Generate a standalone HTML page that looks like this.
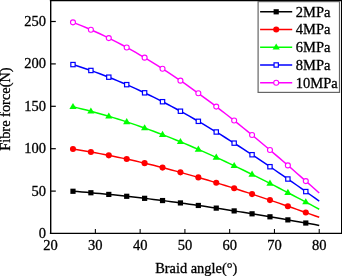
<!DOCTYPE html><html><head><meta charset="utf-8"><style>html,body{margin:0;padding:0;background:#fff;overflow:hidden}svg{display:block;will-change:transform}text{font-family:"Liberation Serif",serif;fill:#000;stroke:#000;stroke-width:0.3px}</style></head><body>
<svg width="342" height="276" viewBox="0 0 342 276">
<polyline points="72.98,191.27 77.46,191.62 81.94,191.98 86.42,192.36 90.89,192.75 95.37,193.15 99.85,193.56 104.32,193.98 108.80,194.42 113.28,194.87 117.75,195.33 122.23,195.80 126.71,196.29 131.19,196.78 135.66,197.29 140.14,197.81 144.62,198.33 149.09,198.87 153.57,199.42 158.05,199.98 162.53,200.55 167.00,201.13 171.48,201.72 175.96,202.32 180.43,202.93 184.91,203.55 189.39,204.18 193.86,204.81 198.34,205.46 202.82,206.11 207.30,206.77 211.77,207.44 216.25,208.12 220.73,208.81 225.20,209.50 229.68,210.20 234.16,210.91 238.63,211.62 243.11,212.35 247.59,213.07 252.06,213.81 256.54,214.55 261.02,215.29 265.50,216.04 269.97,216.80 274.45,217.56 278.93,218.33 283.40,219.10 287.88,219.88 292.36,220.66 296.84,221.44 301.31,222.23 305.79,223.02 310.27,223.81 314.74,224.61 319.22,225.41" fill="none" stroke="#000000" stroke-width="1.5" stroke-linejoin="round"/>
<rect x="70.39" y="188.67" width="5.20" height="5.20" fill="#000000"/>
<rect x="88.29" y="190.15" width="5.20" height="5.20" fill="#000000"/>
<rect x="106.20" y="191.82" width="5.20" height="5.20" fill="#000000"/>
<rect x="124.11" y="193.69" width="5.20" height="5.20" fill="#000000"/>
<rect x="142.02" y="195.73" width="5.20" height="5.20" fill="#000000"/>
<rect x="159.93" y="197.95" width="5.20" height="5.20" fill="#000000"/>
<rect x="177.83" y="200.33" width="5.20" height="5.20" fill="#000000"/>
<rect x="195.74" y="202.86" width="5.20" height="5.20" fill="#000000"/>
<rect x="213.65" y="205.52" width="5.20" height="5.20" fill="#000000"/>
<rect x="231.56" y="208.31" width="5.20" height="5.20" fill="#000000"/>
<rect x="249.47" y="211.21" width="5.20" height="5.20" fill="#000000"/>
<rect x="267.37" y="214.20" width="5.20" height="5.20" fill="#000000"/>
<rect x="285.28" y="217.28" width="5.20" height="5.20" fill="#000000"/>
<rect x="303.19" y="220.42" width="5.20" height="5.20" fill="#000000"/>
<polyline points="72.98,149.04 77.46,149.74 81.94,150.47 86.42,151.22 90.89,151.99 95.37,152.79 99.85,153.62 104.32,154.47 108.80,155.34 113.28,156.24 117.75,157.16 122.23,158.11 126.71,159.07 131.19,160.06 135.66,161.08 140.14,162.11 144.62,163.17 149.09,164.24 153.57,165.34 158.05,166.46 162.53,167.60 167.00,168.76 171.48,169.94 175.96,171.14 180.43,172.36 184.91,173.60 189.39,174.85 193.86,176.13 198.34,177.42 202.82,178.72 207.30,180.05 211.77,181.39 216.25,182.74 220.73,184.12 225.20,185.50 229.68,186.90 234.16,188.32 238.63,189.75 243.11,191.19 247.59,192.65 252.06,194.12 256.54,195.60 261.02,197.09 265.50,198.59 269.97,200.10 274.45,201.63 278.93,203.16 283.40,204.70 287.88,206.25 292.36,207.81 296.84,209.38 301.31,210.95 305.79,212.54 310.27,214.12 314.74,215.72 319.22,217.32" fill="none" stroke="#ff0000" stroke-width="1.5" stroke-linejoin="round"/>
<circle cx="72.98" cy="149.04" r="3.05" fill="#ff0000"/>
<circle cx="90.89" cy="151.99" r="3.05" fill="#ff0000"/>
<circle cx="108.80" cy="155.34" r="3.05" fill="#ff0000"/>
<circle cx="126.71" cy="159.07" r="3.05" fill="#ff0000"/>
<circle cx="144.62" cy="163.17" r="3.05" fill="#ff0000"/>
<circle cx="162.53" cy="167.60" r="3.05" fill="#ff0000"/>
<circle cx="180.43" cy="172.36" r="3.05" fill="#ff0000"/>
<circle cx="198.34" cy="177.42" r="3.05" fill="#ff0000"/>
<circle cx="216.25" cy="182.74" r="3.05" fill="#ff0000"/>
<circle cx="234.16" cy="188.32" r="3.05" fill="#ff0000"/>
<circle cx="252.06" cy="194.12" r="3.05" fill="#ff0000"/>
<circle cx="269.97" cy="200.10" r="3.05" fill="#ff0000"/>
<circle cx="287.88" cy="206.25" r="3.05" fill="#ff0000"/>
<circle cx="305.79" cy="212.54" r="3.05" fill="#ff0000"/>
<polyline points="72.98,106.81 77.46,107.86 81.94,108.95 86.42,110.07 90.89,111.24 95.37,112.44 99.85,113.68 104.32,114.95 108.80,116.26 113.28,117.61 117.75,118.99 122.23,120.41 126.71,121.86 131.19,123.35 135.66,124.86 140.14,126.42 144.62,128.00 149.09,129.62 153.57,131.27 158.05,132.94 162.53,134.65 167.00,136.39 171.48,138.16 175.96,139.96 180.43,141.79 184.91,143.65 189.39,145.53 193.86,147.44 198.34,149.37 202.82,151.33 207.30,153.32 211.77,155.33 216.25,157.37 220.73,159.42 225.20,161.50 229.68,163.61 234.16,165.73 238.63,167.87 243.11,170.04 247.59,172.22 252.06,174.42 256.54,176.64 261.02,178.88 265.50,181.13 269.97,183.40 274.45,185.69 278.93,187.99 283.40,190.30 287.88,192.63 292.36,194.97 296.84,197.32 301.31,199.68 305.79,202.05 310.27,204.44 314.74,206.83 319.22,209.23" fill="none" stroke="#00ff00" stroke-width="1.5" stroke-linejoin="round"/>
<polygon points="72.98,103.01 76.59,109.09 69.38,109.09" fill="#00ff00"/>
<polygon points="90.89,107.44 94.50,113.52 87.28,113.52" fill="#00ff00"/>
<polygon points="108.80,112.46 112.41,118.54 105.19,118.54" fill="#00ff00"/>
<polygon points="126.71,118.06 130.32,124.14 123.10,124.14" fill="#00ff00"/>
<polygon points="144.62,124.20 148.23,130.28 141.01,130.28" fill="#00ff00"/>
<polygon points="162.53,130.85 166.14,136.93 158.91,136.93" fill="#00ff00"/>
<polygon points="180.43,137.99 184.04,144.07 176.82,144.07" fill="#00ff00"/>
<polygon points="198.34,145.57 201.95,151.65 194.73,151.65" fill="#00ff00"/>
<polygon points="216.25,153.57 219.86,159.65 212.64,159.65" fill="#00ff00"/>
<polygon points="234.16,161.93 237.77,168.01 230.55,168.01" fill="#00ff00"/>
<polygon points="252.06,170.62 255.68,176.70 248.45,176.70" fill="#00ff00"/>
<polygon points="269.97,179.60 273.58,185.68 266.36,185.68" fill="#00ff00"/>
<polygon points="287.88,188.83 291.49,194.91 284.27,194.91" fill="#00ff00"/>
<polygon points="305.79,198.25 309.40,204.33 302.18,204.33" fill="#00ff00"/>
<polyline points="72.98,64.58 77.46,65.98 81.94,67.43 86.42,68.93 90.89,70.48 95.37,72.09 99.85,73.74 104.32,75.44 108.80,77.18 113.28,78.98 117.75,80.82 122.23,82.71 126.71,84.65 131.19,86.63 135.66,88.65 140.14,90.72 144.62,92.83 149.09,94.99 153.57,97.19 158.05,99.43 162.53,101.71 167.00,104.03 171.48,106.39 175.96,108.78 180.43,111.22 184.91,113.69 189.39,116.20 193.86,118.75 198.34,121.33 202.82,123.95 207.30,126.59 211.77,129.28 216.25,131.99 220.73,134.73 225.20,137.50 229.68,140.31 234.16,143.14 238.63,146.00 243.11,148.88 247.59,151.79 252.06,154.73 256.54,157.69 261.02,160.67 265.50,163.68 269.97,166.71 274.45,169.75 278.93,172.82 283.40,175.90 287.88,179.01 292.36,182.13 296.84,185.26 301.31,188.41 305.79,191.57 310.27,194.75 314.74,197.94 319.22,201.13" fill="none" stroke="#0000ff" stroke-width="1.5" stroke-linejoin="round"/>
<rect x="70.83" y="62.43" width="4.30" height="4.30" fill="#fff" stroke="#0000ff" stroke-width="1.2"/>
<rect x="88.74" y="68.33" width="4.30" height="4.30" fill="#fff" stroke="#0000ff" stroke-width="1.2"/>
<rect x="106.65" y="75.03" width="4.30" height="4.30" fill="#fff" stroke="#0000ff" stroke-width="1.2"/>
<rect x="124.56" y="82.50" width="4.30" height="4.30" fill="#fff" stroke="#0000ff" stroke-width="1.2"/>
<rect x="142.47" y="90.68" width="4.30" height="4.30" fill="#fff" stroke="#0000ff" stroke-width="1.2"/>
<rect x="160.38" y="99.56" width="4.30" height="4.30" fill="#fff" stroke="#0000ff" stroke-width="1.2"/>
<rect x="178.28" y="109.07" width="4.30" height="4.30" fill="#fff" stroke="#0000ff" stroke-width="1.2"/>
<rect x="196.19" y="119.18" width="4.30" height="4.30" fill="#fff" stroke="#0000ff" stroke-width="1.2"/>
<rect x="214.10" y="129.84" width="4.30" height="4.30" fill="#fff" stroke="#0000ff" stroke-width="1.2"/>
<rect x="232.01" y="140.99" width="4.30" height="4.30" fill="#fff" stroke="#0000ff" stroke-width="1.2"/>
<rect x="249.91" y="152.58" width="4.30" height="4.30" fill="#fff" stroke="#0000ff" stroke-width="1.2"/>
<rect x="267.82" y="164.56" width="4.30" height="4.30" fill="#fff" stroke="#0000ff" stroke-width="1.2"/>
<rect x="285.73" y="176.86" width="4.30" height="4.30" fill="#fff" stroke="#0000ff" stroke-width="1.2"/>
<rect x="303.64" y="189.42" width="4.30" height="4.30" fill="#fff" stroke="#0000ff" stroke-width="1.2"/>
<polyline points="72.98,22.35 77.46,24.10 81.94,25.91 86.42,27.79 90.89,29.73 95.37,31.73 99.85,33.80 104.32,35.92 108.80,38.11 113.28,40.35 117.75,42.65 122.23,45.01 126.71,47.43 131.19,49.91 135.66,52.44 140.14,55.03 144.62,57.67 149.09,60.36 153.57,63.11 158.05,65.91 162.53,68.76 167.00,71.66 171.48,74.61 175.96,77.61 180.43,80.65 184.91,83.74 189.39,86.88 193.86,90.06 198.34,93.29 202.82,96.56 207.30,99.87 211.77,103.22 216.25,106.61 220.73,110.04 225.20,113.51 229.68,117.01 234.16,120.55 238.63,124.12 243.11,127.73 247.59,131.37 252.06,135.04 256.54,138.74 261.02,142.47 265.50,146.22 269.97,150.01 274.45,153.82 278.93,157.65 283.40,161.51 287.88,165.38 292.36,169.28 296.84,173.20 301.31,177.14 305.79,181.09 310.27,185.06 314.74,189.05 319.22,193.04" fill="none" stroke="#ff00ff" stroke-width="1.5" stroke-linejoin="round"/>
<circle cx="72.98" cy="22.35" r="2.5" fill="#fff" stroke="#ff00ff" stroke-width="1.1"/>
<circle cx="90.89" cy="29.73" r="2.5" fill="#fff" stroke="#ff00ff" stroke-width="1.1"/>
<circle cx="108.80" cy="38.11" r="2.5" fill="#fff" stroke="#ff00ff" stroke-width="1.1"/>
<circle cx="126.71" cy="47.43" r="2.5" fill="#fff" stroke="#ff00ff" stroke-width="1.1"/>
<circle cx="144.62" cy="57.67" r="2.5" fill="#fff" stroke="#ff00ff" stroke-width="1.1"/>
<circle cx="162.53" cy="68.76" r="2.5" fill="#fff" stroke="#ff00ff" stroke-width="1.1"/>
<circle cx="180.43" cy="80.65" r="2.5" fill="#fff" stroke="#ff00ff" stroke-width="1.1"/>
<circle cx="198.34" cy="93.29" r="2.5" fill="#fff" stroke="#ff00ff" stroke-width="1.1"/>
<circle cx="216.25" cy="106.61" r="2.5" fill="#fff" stroke="#ff00ff" stroke-width="1.1"/>
<circle cx="234.16" cy="120.55" r="2.5" fill="#fff" stroke="#ff00ff" stroke-width="1.1"/>
<circle cx="252.06" cy="135.04" r="2.5" fill="#fff" stroke="#ff00ff" stroke-width="1.1"/>
<circle cx="269.97" cy="150.01" r="2.5" fill="#fff" stroke="#ff00ff" stroke-width="1.1"/>
<circle cx="287.88" cy="165.38" r="2.5" fill="#fff" stroke="#ff00ff" stroke-width="1.1"/>
<circle cx="305.79" cy="181.09" r="2.5" fill="#fff" stroke="#ff00ff" stroke-width="1.1"/>
<path d="M50.70,0.65 L50.70,233.50" fill="none" stroke="#000" stroke-width="1.4"/>
<path d="M49.85,233.35 L342.20,233.35" fill="none" stroke="#000" stroke-width="1.3"/>
<path d="M49.85,0.65 L342.20,0.65" fill="none" stroke="#000" stroke-width="1.3"/>
<path d="M341.60,0.65 L341.60,233.50" fill="none" stroke="#000" stroke-width="1.2"/>
<line x1="95.37" y1="233.50" x2="95.37" y2="228.90" stroke="#000" stroke-width="1.05"/>
<line x1="140.14" y1="233.50" x2="140.14" y2="228.90" stroke="#000" stroke-width="1.05"/>
<line x1="184.91" y1="233.50" x2="184.91" y2="228.90" stroke="#000" stroke-width="1.05"/>
<line x1="229.68" y1="233.50" x2="229.68" y2="228.90" stroke="#000" stroke-width="1.05"/>
<line x1="274.45" y1="233.50" x2="274.45" y2="228.90" stroke="#000" stroke-width="1.05"/>
<line x1="319.22" y1="233.50" x2="319.22" y2="228.90" stroke="#000" stroke-width="1.05"/>
<line x1="50.60" y1="191.10" x2="55.80" y2="191.10" stroke="#000" stroke-width="1.2"/>
<line x1="50.60" y1="148.70" x2="55.80" y2="148.70" stroke="#000" stroke-width="1.2"/>
<line x1="50.60" y1="106.30" x2="55.80" y2="106.30" stroke="#000" stroke-width="1.2"/>
<line x1="50.60" y1="63.90" x2="55.80" y2="63.90" stroke="#000" stroke-width="1.2"/>
<line x1="50.60" y1="21.50" x2="55.80" y2="21.50" stroke="#000" stroke-width="1.2"/>
<text x="50.60" y="250.3" font-size="14.5" text-anchor="middle">20</text>
<text x="95.37" y="250.3" font-size="14.5" text-anchor="middle">30</text>
<text x="140.14" y="250.3" font-size="14.5" text-anchor="middle">40</text>
<text x="184.91" y="250.3" font-size="14.5" text-anchor="middle">50</text>
<text x="229.68" y="250.3" font-size="14.5" text-anchor="middle">60</text>
<text x="274.45" y="250.3" font-size="14.5" text-anchor="middle">70</text>
<text x="319.22" y="250.3" font-size="14.5" text-anchor="middle">80</text>
<text x="45.9" y="238.00" font-size="14.5" text-anchor="end">0</text>
<text x="45.9" y="195.60" font-size="14.5" text-anchor="end">50</text>
<text x="45.9" y="153.20" font-size="14.5" text-anchor="end">100</text>
<text x="45.9" y="110.80" font-size="14.5" text-anchor="end">150</text>
<text x="45.9" y="68.40" font-size="14.5" text-anchor="end">200</text>
<text x="45.9" y="26.00" font-size="14.5" text-anchor="end">250</text>
<text x="196.2" y="272.5" font-size="14.4" text-anchor="middle">Braid angle(°)</text>
<text transform="translate(9.8,109.1) rotate(-90)" font-size="14.4" text-anchor="middle">Fibre force(N)</text>
<rect x="258.1" y="1.6" width="81.4" height="90.8" fill="#fff" stroke="#666" stroke-width="1.2"/>
<line x1="260.1" y1="11.80" x2="292.2" y2="11.80" stroke="#000000" stroke-width="1.5"/>
<rect x="273.60" y="9.20" width="5.20" height="5.20" fill="#000000"/>
<text x="295.8" y="16.50" font-size="14.5">2MPa</text>
<line x1="260.1" y1="29.53" x2="292.2" y2="29.53" stroke="#ff0000" stroke-width="1.5"/>
<circle cx="276.20" cy="29.53" r="3.05" fill="#ff0000"/>
<text x="295.8" y="34.35" font-size="14.5">4MPa</text>
<line x1="260.1" y1="47.26" x2="292.2" y2="47.26" stroke="#00ff00" stroke-width="1.5"/>
<polygon points="276.20,43.46 279.81,49.54 272.59,49.54" fill="#00ff00"/>
<text x="295.8" y="52.20" font-size="14.5">6MPa</text>
<line x1="260.1" y1="64.99" x2="292.2" y2="64.99" stroke="#0000ff" stroke-width="1.5"/>
<rect x="274.05" y="62.84" width="4.30" height="4.30" fill="#fff" stroke="#0000ff" stroke-width="1.2"/>
<text x="295.8" y="70.05" font-size="14.5">8MPa</text>
<line x1="260.1" y1="82.72" x2="292.2" y2="82.72" stroke="#ff00ff" stroke-width="1.5"/>
<circle cx="276.20" cy="82.72" r="2.5" fill="#fff" stroke="#ff00ff" stroke-width="1.1"/>
<text x="295.8" y="87.90" font-size="14.5">10MPa</text>
</svg></body></html>
